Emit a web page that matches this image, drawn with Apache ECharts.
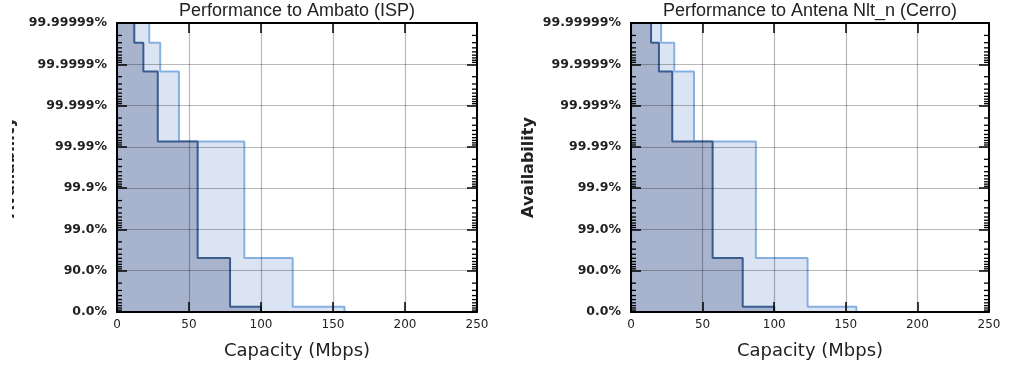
<!DOCTYPE html>
<html>
<head>
<meta charset="utf-8">
<script src="https://cdn.jsdelivr.net/npm/echarts@6/dist/echarts.min.js"></script>
<style>
  html, body { margin: 0; padding: 0; background: #fff; }
  #chart { width: 1010px; height: 365px; }
</style>
</head>
<body>
<div id="chart"></div>
<script>
// Availability tick labels, one per "nine" (0 .. 7 nines)
const availabilityTicks = ['0.0%', '90.0%', '99.0%', '99.9%', '99.99%', '99.999%', '99.9999%', '99.99999%'];
const capacityMin = 0;
const capacityMax = 250;
const capacityStep = 50;

// Availability (%) at which each capacity step ends
const stepAvailability = [99.99997, 99.99985, 99.9926, 95.1, 25];

// Capacity (Mbps) reached at each step; last entry is the capacity at 0% availability
const ambatoLower = [12, 18.3, 28.3, 56, 78.5, 100];
const ambatoUpper = [22.4, 30, 43, 88.4, 122, 158];
const cerroLower = [14, 19.5, 28.8, 57, 78, 100];
const cerroUpper = [21, 30.2, 44, 87.2, 123.3, 157.4];

const panelTitles = ['Performance to Ambato (ISP)', 'Performance to Antena Nlt_n (Cerro)'];

// minor tick fractions of unavailability inside each decade
const minorFractions = [0.9, 0.8, 0.7, 0.6, 0.5, 0.4, 0.3, 0.2];

const topLevel = availabilityTicks.length - 1;
// number of nines: -log10(1 - availability)
const nines = a => -Math.log10(1 - a / 100);

function stepPoints(capacity) {
  const pts = [[0, topLevel]];
  stepAvailability.forEach((a, i) => pts.push([capacity[i], nines(a)]));
  pts.push([capacity[capacity.length - 1], 0]);
  return pts;
}

const minorLevels = [];
for (let k = 0; k < topLevel; k++) {
  minorFractions.forEach(f => minorLevels.push([0, k - Math.log10(f)]));
}

const darkFill = '#a8b4ce';
const darkLine = '#3a5b8e';
const lightFill = '#dae4f2';
const lightLine = '#86b0e2';

const grids = [
  { left: 117, top: 23, width: 360, height: 290 },
  { left: 631, top: 23, width: 358, height: 290 }
];

const xAxes = [], yAxes = [], series = [], titles = [];

const panels = [
  { lower: ambatoLower, upper: ambatoUpper, nameGap: 99 },
  { lower: cerroLower, upper: cerroUpper, nameGap: 94 }
];

panels.forEach((p, gi) => {
  // bottom axis
  xAxes.push({
    type: 'value', gridIndex: gi, position: 'bottom', z: 4,
    min: capacityMin, max: capacityMax, interval: capacityStep,
    name: 'Capacity (Mbps)', nameLocation: 'middle', nameGap: 30,
    nameTextStyle: { fontFamily: 'DejaVu Sans', fontSize: 18, color: '#222' },
    axisLine: { show: true, lineStyle: { color: '#000', width: 2 } },
    axisTick: { show: true, inside: true, length: 10, lineStyle: { color: '#000', width: 1.5 } },
    axisLabel: { show: true, margin: 7, fontFamily: 'DejaVu Sans', fontSize: 12, color: '#222' },
    splitLine: { show: true, lineStyle: { color: 'rgba(0,0,0,0.28)', width: 1.2 } }
  });
  // top frame
  xAxes.push({
    type: 'value', gridIndex: gi, position: 'top', z: 4,
    min: capacityMin, max: capacityMax, interval: capacityStep,
    axisLine: { show: true, onZero: false, lineStyle: { color: '#000', width: 2 } },
    axisTick: { show: true, inside: true, length: 10, lineStyle: { color: '#000', width: 1.5 } },
    axisLabel: { show: false }, splitLine: { show: false }
  });
  // left availability axis
  yAxes.push({
    type: 'value', gridIndex: gi, position: 'left', z: 4,
    min: 0, max: topLevel, interval: 1,
    name: 'Availability', nameLocation: 'middle', nameGap: p.nameGap,
    nameTextStyle: { fontFamily: 'DejaVu Sans', fontWeight: 'bold', fontSize: 16, color: '#222' },
    axisLine: { show: true, lineStyle: { color: '#000', width: 2 } },
    axisTick: { show: true, inside: true, length: 10, lineStyle: { color: '#000', width: 1.5 } },
    axisLabel: {
      show: true, margin: 10, fontFamily: 'DejaVu Sans', fontWeight: 'bold', fontSize: 12.5, color: '#222',
      formatter: v => availabilityTicks[Math.round(v)]
    },
    splitLine: { show: true, lineStyle: { color: 'rgba(0,0,0,0.28)', width: 1.2 } }
  });
  // right frame
  yAxes.push({
    type: 'value', gridIndex: gi, position: 'right', z: 4,
    min: 0, max: topLevel, interval: 1,
    axisLine: { show: true, onZero: false, lineStyle: { color: '#000', width: 2 } },
    axisTick: { show: true, inside: true, length: 10, lineStyle: { color: '#000', width: 1.5 } },
    axisLabel: { show: false }, splitLine: { show: false }
  });

  const xi = gi * 2, yi = gi * 2;
  series.push({
    type: 'line', xAxisIndex: xi, yAxisIndex: yi, step: 'end', symbol: 'none', z: 2,
    data: stepPoints(p.upper),
    lineStyle: { color: lightLine, width: 2 },
    areaStyle: { color: lightFill, opacity: 1 },
    silent: true, animation: false
  });
  series.push({
    type: 'line', xAxisIndex: xi, yAxisIndex: yi, step: 'end', symbol: 'none', z: 3,
    data: stepPoints(p.lower),
    lineStyle: { color: darkLine, width: 2 },
    areaStyle: { color: darkFill, opacity: 1 },
    silent: true, animation: false
  });
  // minor ticks on both vertical frame sides
  series.push({
    type: 'custom', xAxisIndex: xi, yAxisIndex: yi, z: 5, silent: true, animation: false,
    data: minorLevels,
    renderItem: (params, api) => {
      const lvl = api.value(1);
      const pl = api.coord([capacityMin, lvl]);
      const pr = api.coord([capacityMax, lvl]);
      const st = { stroke: '#000', lineWidth: 1.3 };
      return {
        type: 'group', children: [
          { type: 'line', shape: { x1: pl[0], y1: pl[1], x2: pl[0] + 5, y2: pl[1] }, style: st },
          { type: 'line', shape: { x1: pr[0], y1: pr[1], x2: pr[0] - 5, y2: pr[1] }, style: st }
        ]
      };
    }
  });

  titles.push({
    text: panelTitles[gi],
    left: grids[gi].left + grids[gi].width / 2, top: 2, padding: 0, textAlign: 'center',
    textStyle: { fontFamily: 'Liberation Sans', fontWeight: 'normal', fontSize: 18, lineHeight: 19, color: '#222' }
  });
});

const chart = echarts.init(document.getElementById('chart'), null, { renderer: 'canvas' });
chart.setOption({
  backgroundColor: '#fff',
  animation: false,
  title: titles,
  grid: grids,
  xAxis: xAxes,
  yAxis: yAxes,
  series: series,
  graphic: [
    // the left panel's axis name runs off the page edge
    { type: 'rect', left: 0, top: 100, z: 100, shape: { width: 12, height: 140 }, style: { fill: '#fff' } }
  ]
});
</script>
</body>
</html>
